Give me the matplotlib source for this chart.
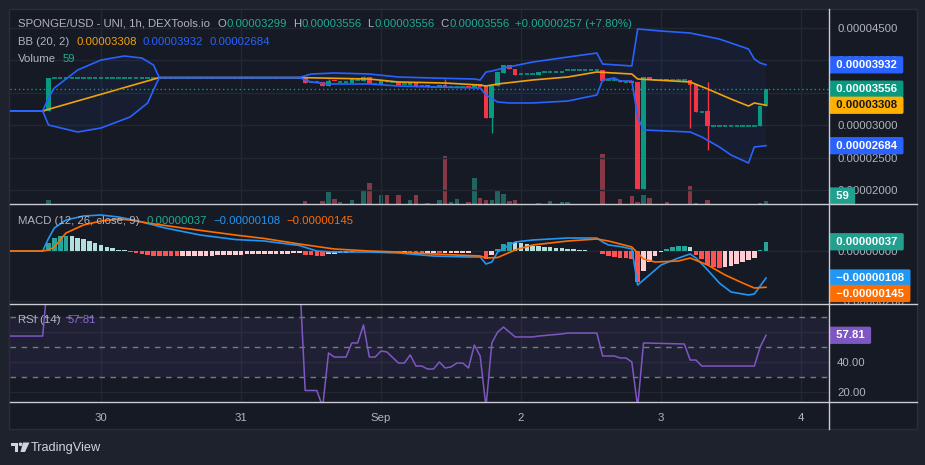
import numpy as np
import matplotlib
matplotlib.use("Agg")
import matplotlib.pyplot as plt
from matplotlib.patches import Rectangle, Circle, Polygon

plt.rcParams['font.family'] = ['Liberation Sans', 'DejaVu Sans']

W, H = 925, 465
PU = 1e-6   # prices below are in millionths of a dollar
MU = 1e-8   # macd values below are in 1e-8

# ---------------- data ----------------
# bar index = hours since Aug 29 15:00
day_bars = [9, 33, 57, 81, 105, 129]
day_labels = ['30', '31', 'Sep', '2', '3', '4']

candle_bar = [0, 44, 47, 48, 49, 52, 54, 55, 57, 58, 60, 62, 63, 65, 67, 68, 72, 73, 74, 75,
              76, 77, 78, 79, 80, 84, 95, 98, 100, 101, 102, 103, 106, 110, 111, 113, 122, 123]
candle_open = [32.20, 37.35, 36.67, 36.05, 36.82, 36.51, 36.82, 37.44, 36.36, 36.82,
               36.67, 36.20, 36.51, 36.05, 35.90, 36.20, 36.00, 35.90, 36.36, 36.05,
               31.11, 36.05, 38.06, 39.29, 38.67, 37.75, 38.52, 36.98, 36.82, 36.67,
               20.15, 37.44, 37.00, 36.98, 36.36, 32.19, 29.88, 32.99]
candle_high = [37.35, 37.35, 36.67, 37.13, 36.82, 37.13, 37.60, 37.44, 36.82, 36.82,
               36.67, 36.51, 36.51, 36.05, 36.20, 37.13, 36.00, 36.36, 36.36, 36.05,
               36.20, 38.21, 39.29, 39.29, 38.67, 38.21, 38.52, 36.98, 36.82, 36.67,
               37.44, 37.44, 37.00, 36.98, 36.36, 36.67, 32.96, 35.56]
candle_low = [32.20, 36.51, 36.05, 36.05, 36.75, 36.51, 36.82, 36.36, 36.36, 36.67,
              36.20, 36.20, 35.90, 35.95, 35.90, 35.90, 35.90, 35.90, 35.90, 31.11,
              28.80, 36.05, 38.06, 38.67, 37.75, 37.75, 36.82, 36.67, 36.51, 20.15,
              20.15, 37.13, 36.90, 29.57, 32.04, 26.17, 29.88, 32.99]
candle_close = [37.35, 36.51, 36.05, 36.82, 36.75, 37.13, 37.44, 36.36, 36.82, 36.67,
                36.20, 36.51, 35.90, 35.95, 36.20, 35.90, 35.90, 36.36, 35.90, 31.11,
                36.20, 38.21, 39.29, 38.67, 37.75, 38.21, 36.82, 36.67, 36.51, 20.15,
                37.44, 37.13, 36.90, 36.20, 32.04, 29.88, 32.96, 35.56]

# hours with no trades (open = close), drawn as flat dashes
flat_from = [-7, 1, 45, 50, 53, 56, 59, 61, 64, 66, 69, 81, 85, 89, 96, 99, 104, 107, 112, 114]
flat_to = [-1, 43, 46, 51, 53, 56, 59, 61, 64, 66, 71, 83, 88, 94, 97, 99, 105, 109, 112, 121]
flat_level = [32.2, 37.35, 36.6, 36.7, 36.9, 36.4, 36.67, 36.3, 36.0, 35.95, 35.95, 37.9,
              38.21, 38.5, 36.9, 36.7, 36.98, 36.98, 32.1, 29.88]

vol_bar = [0, 44, 47, 48, 49, 50, 52, 54, 55, 57, 58, 60, 62, 63, 65, 67, 68, 69, 70, 72,
           73, 74, 75, 76, 77, 78, 79, 80, 84, 86, 88, 89, 95, 98, 100, 101, 102, 103, 106, 110,
           111, 113, 122, 123]
vol_val = [80, 60, 60, 240, 100, 40, 80, 280, 420, 180, 180, 180, 80, 180, 20, 80, 940, 40, 100, 40,
           500, 120, 80, 80, 280, 200, 60, 80, 20, 60, 40, 40, 980, 100, 160, 40, 180, 120, 40, 360,
           20, 80, 20, 59]
vol_up = [1, 0, 0, 1, 0, 1, 1, 1, 0, 1, 0, 0, 1, 0, 0, 1, 0, 1, 1, 0,
          1, 0, 0, 1, 1, 1, 0, 0, 1, 1, 1, 1, 0, 0, 0, 0, 1, 0, 0, 0,
          0, 0, 1, 1]

bb_up_bar = [-7, -1, 0, 1, 5, 9, 13, 16, 18, 19, 43, 45, 49, 55, 60, 66, 73, 74, 75, 76,
             78, 83, 89, 94, 95, 100, 101, 105, 110, 115, 120, 121, 122, 123]
bb_up = [32.2, 32.2, 34.2, 35.74, 38.52, 40.06, 40.68, 40.37, 39.29, 37.35,
         37.35, 37.9, 38.06, 37.9, 37.44, 37.28, 37.13, 36.98, 38.21, 38.36,
         38.83, 39.75, 40.52, 41.14, 39.44, 39.14, 44.85, 44.54, 44.23, 43.30,
         41.76, 40.22, 39.60, 39.32]
bb_lo_bar = [-7, -1, 0, 5, 9, 14, 17, 18, 19, 43, 45, 48, 55, 60, 66, 74, 75, 77, 79, 83,
             89, 94, 95, 97, 98, 100, 101, 102, 110, 112, 115, 117, 120, 121, 123]
bb_lo = [32.2, 32.2, 30.03, 28.95, 29.57, 31.27, 33.43, 35.43, 37.35, 37.35,
         36.67, 36.36, 36.36, 36.05, 35.9, 35.74, 34.66, 33.58, 33.43, 33.43,
         33.73, 34.66, 36.98, 37.28, 36.82, 36.82, 31.27, 29.26, 28.95, 28.18,
         26.64, 25.40, 24.17, 26.64, 26.84]
bb_mid_bar = [-7, -1, 19, 43, 55, 60, 68, 74, 75, 77, 83, 89, 94, 100, 101, 110, 113, 117, 120, 121, 123]
bb_mid = [32.2, 32.2, 37.35, 37.35, 37.13, 36.67, 36.51, 36.2, 36.05, 36.36, 36.98,
          37.44, 38.21, 37.9, 37.13, 36.67, 35.59, 34.04, 32.96, 33.43, 33.08]

macd_bar = [-7, -1, 0, 1, 3, 6, 9, 12, 15, 20, 26, 32, 37, 43, 46, 49, 55, 60, 66, 72,
            74, 75, 76, 77, 79, 80, 83, 89, 94, 95, 96, 98, 100, 101, 102, 105, 108, 110, 111, 113,
            115, 117, 120, 121, 123]
macd_line = [0, 0, 50, 92, 124, 140, 144, 136, 122, 92, 64, 46, 40, 22, 0, -4, -4, -8, -20, -24,
             -24, -52, -44, -4, 24, 36, 44, 52, 52, 36, 24, 18, 8, -136, -116, -56, -28, -12, -28, -76,
             -128, -164, -176, -172, -108]
signal_bar = [-7, -1, 0, 1, 3, 6, 9, 12, 14, 17, 23, 32, 37, 43, 49, 55, 60, 66, 74, 75,
              77, 80, 83, 89, 94, 96, 100, 101, 102, 104, 108, 110, 113, 116, 119, 121, 123]
signal_line = [0, 0, 4, 16, 72, 104, 120, 128, 124, 112, 92, 64, 50, 28, 8, 0, -4, -12, -20, -28,
               -26, 4, 24, 40, 48, 40, 16, -8, -32, -44, -40, -28, -56, -96, -128, -148, -145]
hist_first_bar = -7
hist_vals = [-1, -1, -1, -1, -1, -1, -1,
             32, 52, 60, 61, 60, 52, 48, 40, 32, 24, 17, 12, 5, 3,
             -5, -9, -13, -16, -18, -19, -20, -20.5, -21,
             -20.5, -20, -19.5, -19, -18.5, -18, -17.5, -17, -16.5,
             -14.5, -14, -13.5, -13, -12.5, -12,
             -11.5, -11, -10.5, -10, -9.5, -9,
             -16, -17, -19, -20, -13, -12, -9, -8, -5, -1, 4,
             -5, -4.5, -4.2, -4, -8, -8.5, -8, -9, -11, -11.5, -11, -8, -8.5, -8, -7.5, -7, -6.5, -6, 1, 2,
             -32, -16, 8, 28, 37, 35, 31, 27, 21, 20, 17, 16, 13, 12, 9, 8, 5, 4, 1, 0.5,
             -11, -20, -25, -28, -29, -30, -125, -80, -43, -19, -3, 8, 17, 21, 22, 16,
             -16, -33, -56, -64, -67, -63, -59, -51, -43, -35, -29, 5, 37]

rsi_bar = [-7, -1, 0, 43, 44, 46, 47, 48, 49, 51, 52, 53, 54, 55, 56, 57, 58, 60, 61, 62,
           63, 64, 65, 66, 67, 68, 69, 70, 71, 72, 73, 74, 75, 76, 77, 78, 79, 80, 83, 84,
           88, 89, 94, 95, 97, 98, 99, 100, 101, 102, 109, 110, 111, 112, 121, 122, 123]
rsi_val = [57.3, 57.3, 100, 100, 21, 21, 10, 46, 43.3, 43.3, 52.7, 52.7, 64.7, 43.3, 43.3, 47.3, 46.7, 39.3, 39.3, 44.7,
           37.3, 37.3, 35.3, 35.3, 40, 36, 36.7, 39.3, 39.3, 36, 51.3, 44, 10, 52.7, 60, 63.3, 60, 56.7, 56.7, 57.3,
           58.7, 59.3, 59.3, 44, 44, 42.7, 42.7, 40, 10, 52.7, 52, 41.3, 41.3, 37.3, 37.3, 50, 57.81]

last_price = 35.56
last_volume = 59

# ---------------- colours ----------------
OUTER = '#1e222d'
BG = '#161a25'
GRID = '#232733'
TXT = '#b2b5be'
UP = '#089981'
DOWN = '#f23645'
UP_VOL = '#1f645f'
DOWN_VOL = '#873846'
BB_BLUE = '#2962ff'
BB_MID = '#f0a20b'
MACD_C = '#2196f3'
SIG_C = '#ff6d00'
RSI_C = '#7e57c2'
SEP = '#c9ccd3'
FS = 8.2


def frect(x0, y0, x1, y1):
    return [x0 / W, 1 - y1 / H, (x1 - x0) / W, (y1 - y0) / H]


fig = plt.figure(figsize=(W / 100, H / 100), dpi=100, facecolor=OUTER)

bg = fig.add_axes([0, 0, 1, 1], zorder=-10)
bg.set_xlim(0, W)
bg.set_ylim(H, 0)
bg.axis('off')
bg.add_patch(Rectangle((9, 9), 908, 420, fc=BG, ec='#2a2e39', lw=1))

XL = (-6.6, 133.8)


def style(ax):
    ax.set_facecolor('none')
    for s in ax.spines.values():
        s.set_visible(False)
    ax.set_xlim(*XL)
    ax.set_xticks(day_bars)
    ax.set_xticklabels(day_labels)
    ax.tick_params(axis='both', length=0, colors=TXT, labelsize=FS)
    ax.tick_params(axis='x', labelbottom=False)
    ax.tick_params(axis='y', pad=5.8)
    ax.yaxis.tick_right()
    ax.grid(True, color=GRID, lw=1)
    ax.set_axisbelow(True)


def tag(ax, y, text, fc, tc='white', dy=0, coords=None):
    ax.annotate(' ' + text + ' ', xy=(1, y), xycoords=coords or ax.get_yaxis_transform(),
                xytext=(2.6, dy), textcoords='offset points', ha='left', va='center',
                fontsize=FS, fontweight='bold', color=tc, annotation_clip=False, zorder=20,
                bbox=dict(boxstyle='round,pad=0.32,rounding_size=0.15', fc=fc, ec='none'))


def fmt(v, digits=8):
    return f'{v:.{digits}f}'.replace('-', '\u2212')


# ---------------- price pane ----------------
ax_v = fig.add_axes(frect(10, 10, 829, 204))
ax_v.set_facecolor('none')
ax_v.axis('off')
ax_v.set_xlim(*XL)
ax_v.set_ylim(0, 3800)
ax_v.bar(vol_bar, vol_val, width=0.78, color=[UP_VOL if u else DOWN_VOL for u in vol_up])

ax_p = fig.add_axes(frect(10, 10, 829, 204))
style(ax_p)
price_ticks = np.array([20, 25, 30, 35, 40, 45]) * PU
ax_p.set_yticks(price_ticks)
ax_p.set_yticklabels([fmt(v) for v in price_ticks])
ax_p.set_ylim(17.84 * PU, 47.78 * PU)

# band fill
poly_x = np.r_[bb_up_bar, bb_lo_bar[::-1]]
poly_y = np.r_[bb_up, bb_lo[::-1]] * PU
ax_p.fill(poly_x, poly_y, color=BB_BLUE, alpha=0.06, lw=0, zorder=1)

for s, e, lv in zip(flat_from, flat_to, flat_level):
    for b in range(s, e + 1):
        ax_p.hlines(lv * PU, b - 0.38, b + 0.38, color=UP, lw=1.2, zorder=2)

for b, o, h, l, c in zip(candle_bar, candle_open, candle_high, candle_low, candle_close):
    col = UP if c >= o else DOWN
    ax_p.vlines(b, l * PU, h * PU, color=col, lw=1, zorder=3)
    ax_p.bar(b, max(abs(c - o), 0.18) * PU, bottom=min(o, c) * PU, width=0.8,
             color=col, lw=0, zorder=3)

ax_p.plot(bb_mid_bar, np.array(bb_mid) * PU, color=BB_MID, lw=1.2, zorder=4)
ax_p.plot(bb_up_bar, np.array(bb_up) * PU, color=BB_BLUE, lw=1.2, zorder=4)
ax_p.plot(bb_lo_bar, np.array(bb_lo) * PU, color=BB_BLUE, lw=1.2, zorder=4)
ax_p.axhline(last_price * PU, color=UP, lw=1, ls=(0, (1, 2)), zorder=5)

tag(ax_p, bb_up[-1] * PU, fmt(bb_up[-1] * PU), BB_BLUE)
tag(ax_p, last_price * PU, fmt(last_price * PU), UP)
tag(ax_p, bb_mid[-1] * PU, fmt(bb_mid[-1] * PU), '#ffb000', tc='#131722')
tag(ax_p, bb_lo[-1] * PU, fmt(bb_lo[-1] * PU), BB_BLUE)
tag(ax_p, 0.041, str(last_volume), '#22a08f', coords='axes fraction')

# ---------------- MACD pane ----------------
ax_m = fig.add_axes(frect(10, 204, 829, 304))
style(ax_m)
macd_ticks = np.array([-200, 0]) * MU
ax_m.set_yticks(macd_ticks)
ax_m.set_yticklabels([fmt(v) for v in macd_ticks])
ax_m.set_ylim(-212 * MU, 188 * MU)

hb = np.arange(hist_first_bar, hist_first_bar + len(hist_vals))
hcol = []
prev = hist_vals[0]
for v in hist_vals:
    if v >= 0:
        hcol.append('#26a69a' if v > prev else '#b2dfdb')
    else:
        hcol.append('#ff5252' if v < prev else '#ffcdd2')
    prev = v
ax_m.bar(hb, np.array(hist_vals) * MU, width=0.8, color=hcol, lw=0, zorder=2)
ax_m.plot(macd_bar, np.array(macd_line) * MU, color=MACD_C, lw=1.2, zorder=3)
ax_m.plot(signal_bar, np.array(signal_line) * MU, color=SIG_C, lw=1.2, zorder=3)

tag(ax_m, hist_vals[-1] * MU, fmt(hist_vals[-1] * MU), '#22a08f')
tag(ax_m, macd_line[-1] * MU, fmt(macd_line[-1] * MU), MACD_C)
tag(ax_m, signal_line[-1] * MU, fmt(signal_line[-1] * MU), SIG_C, dy=-4.5)

# ---------------- RSI pane ----------------
ax_r = fig.add_axes(frect(10, 304, 829, 402))
style(ax_r)
ax_r.set_yticks([20, 40, 60])
ax_r.set_yticklabels(['20.00', '40.00', '60.00'])
ax_r.set_ylim(13.33, 78.67)
ax_r.tick_params(axis='x', labelbottom=True, pad=8)
ax_r.axhspan(30, 70, color=RSI_C, alpha=0.1, lw=0, zorder=1)
for lv in (30, 50, 70):
    ax_r.axhline(lv, color='#787b86', lw=1, ls=(0, (4, 4)), zorder=1)
ax_r.plot(rsi_bar, rsi_val, color=RSI_C, lw=1.1, zorder=3)
tag(ax_r, rsi_val[-1], f'{rsi_val[-1]:.2f}', RSI_C)

# ---------------- separators, legends, logo ----------------
fg = fig.add_axes([0, 0, 1, 1], zorder=10)
fg.set_facecolor('none')
fg.set_xlim(0, W)
fg.set_ylim(H, 0)
fg.axis('off')
for yy in (204, 304, 402):
    fg.plot([10, 917], [yy, yy], color=SEP, lw=1)
fg.plot([829, 829], [9, 429], color=SEP, lw=1)

fig.canvas.draw()
rend = fig.canvas.get_renderer()


def parts(x, y, items):
    for s, c, gap in items:
        t = fg.text(x, y, s, color=c, fontsize=FS, ha='left', va='center')
        x += t.get_window_extent(renderer=rend).width + gap


LEG_TEAL = '#22ab94'
parts(18, 24, [('SPONGE/USD - UNI, 1h, DEXTools.io', TXT, 7), ('O', TXT, 0.5),
               ('0.00003299', LEG_TEAL, 6), ('H', TXT, 0.5), ('0.00003556', LEG_TEAL, 6),
               ('L', TXT, 0.5), ('0.00003556', LEG_TEAL, 6), ('C', TXT, 0.5),
               ('0.00003556', LEG_TEAL, 5), ('+0.00000257 (+7.80%)', LEG_TEAL, 0)])
parts(18, 42, [('BB (20, 2)', TXT, 7), (fmt(bb_mid[-1] * PU), BB_MID, 6),
               (fmt(bb_up[-1] * PU), BB_BLUE, 6), (fmt(bb_lo[-1] * PU), BB_BLUE, 0)])
parts(18, 59, [('Volume', TXT, 6), (str(last_volume), LEG_TEAL, 0)])
parts(18, 221, [('MACD (12, 26, close, 9)', TXT, 7), (fmt(hist_vals[-1] * MU), LEG_TEAL, 6),
                (fmt(macd_line[-1] * MU), MACD_C, 6), (fmt(signal_line[-1] * MU), SIG_C, 0)])
parts(18, 320, [('RSI (14)', TXT, 7), (f'{rsi_val[-1]:.2f}', '#8a6cd0', 0)])

# TradingView mark
fg.add_patch(Rectangle((11, 442.5), 7, 3, fc='#d1d4dc', ec='none'))
fg.add_patch(Rectangle((14.5, 442.5), 3.5, 9.5, fc='#d1d4dc', ec='none'))
fg.add_patch(Circle((20.5, 444.3), 1.8, fc='#d1d4dc', ec='none'))
fg.add_patch(Polygon([(23, 442.5), (29.5, 442.5), (25, 452), (20.5, 452)], fc='#d1d4dc', ec='none'))
fg.text(31, 447.5, 'TradingView', color='#d1d4dc', fontsize=9.2, ha='left', va='center')

fig.savefig('out.png', dpi=100, facecolor=OUTER)
